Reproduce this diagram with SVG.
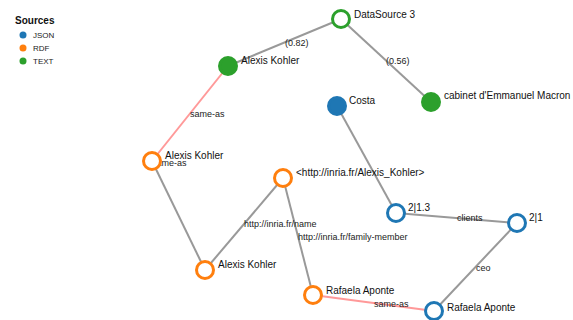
<svg xmlns="http://www.w3.org/2000/svg" width="573" height="320" viewBox="0 0 573 320">
<style>
.link{stroke:#999;stroke-width:2;fill:none}
.same{stroke:#f99;stroke-width:2;fill:none}
.elabel{font-family:"Liberation Sans",Arial,sans-serif;font-size:9px;fill:#222}
.nlabel{font-family:"Liberation Sans",Arial,sans-serif;font-size:10px;fill:#111}
.node{stroke-width:3}
.json{stroke:#1f77b4}
.rdf{stroke:#ff7f0e}
.text{stroke:#2ca02c}
.hollow{fill:#fff}
.json.filled{fill:#1f77b4}
.text.filled{fill:#2ca02c}
.lt{font-family:"Liberation Sans",Arial,sans-serif;font-size:10px;font-weight:bold;fill:#111}
.li{font-family:"Liberation Sans",Arial,sans-serif;font-size:8px;fill:#222}
</style>
<rect width="573" height="320" fill="#fff"/>
<g id="legend">
<text class="lt" x="15" y="24">Sources</text>
<circle cx="23" cy="35" r="3.5" fill="#1f77b4"/><text class="li" x="33" y="38">JSON</text>
<circle cx="23" cy="48" r="3.5" fill="#ff7f0e"/><text class="li" x="33" y="51">RDF</text>
<circle cx="23" cy="61" r="3.5" fill="#2ca02c"/><text class="li" x="33" y="64">TEXT</text>
</g>
<g id="connectors">
<line class="link" x1="341" y1="19" x2="228" y2="66"/>
<line class="link" x1="341" y1="19" x2="431" y2="102"/>
<line class="same" x1="228" y1="66" x2="152" y2="161"/>
<line class="link" x1="152" y1="161" x2="205" y2="270"/>
<line class="link" x1="283" y1="178" x2="205" y2="270"/>
<line class="link" x1="283" y1="178" x2="313" y2="295"/>
<line class="link" x1="337" y1="106" x2="396" y2="213"/>
<line class="link" x1="396" y1="213" x2="517" y2="223"/>
<line class="link" x1="517" y1="223" x2="434" y2="311"/>
<line class="same" x1="313" y1="295" x2="434" y2="311"/>
<text class="elabel" x="285" y="46">(0.82)</text>
<text class="elabel" x="386" y="64">(0.56)</text>
<text class="elabel" x="190" y="117">same-as</text>
<text class="elabel" x="152" y="166">same-as</text>
<text class="elabel" x="244" y="227">http://inria.fr/name</text>
<text class="elabel" x="298" y="240">http://inria.fr/family-member</text>
<text class="elabel" x="457" y="221">clients</text>
<text class="elabel" x="476" y="271">ceo</text>
<text class="elabel" x="374" y="307">same-as</text>
</g>
<g id="n-datasource3"><circle class="node text hollow" cx="341" cy="19" r="8.5"/><text class="nlabel" x="354" y="18">DataSource 3</text></g>
<g id="n-alexis-text"><circle class="node text filled" cx="228" cy="66" r="8.5"/><text class="nlabel" x="241" y="64">Alexis Kohler</text></g>
<g id="n-macron"><circle class="node text filled" cx="431" cy="102" r="8.5"/><text class="nlabel" x="444" y="99">cabinet d'Emmanuel Macron</text></g>
<g id="n-costa"><circle class="node json filled" cx="337" cy="106" r="8.5"/><text class="nlabel" x="349" y="104">Costa</text></g>
<g id="n-alexis-rdf1"><circle class="node rdf hollow" cx="152" cy="161" r="8.5"/><text class="nlabel" x="165" y="159">Alexis Kohler</text></g>
<g id="n-inria-uri"><circle class="node rdf hollow" cx="283" cy="178" r="8.5"/><text class="nlabel" x="296" y="176">&lt;http://inria.fr/Alexis_Kohler&gt;</text></g>
<g id="n-2-1-3"><circle class="node json hollow" cx="396" cy="213" r="8.5"/><text class="nlabel" x="408" y="211">2|1.3</text></g>
<g id="n-2-1"><circle class="node json hollow" cx="517" cy="223" r="8.5"/><text class="nlabel" x="529" y="221">2|1</text></g>
<g id="n-alexis-rdf2"><circle class="node rdf hollow" cx="205" cy="270" r="8.5"/><text class="nlabel" x="218" y="268">Alexis Kohler</text></g>
<g id="n-rafaela-rdf"><circle class="node rdf hollow" cx="313" cy="295" r="8.5"/><text class="nlabel" x="326" y="294">Rafaela Aponte</text></g>
<g id="n-rafaela-json"><circle class="node json hollow" cx="434" cy="311" r="8.5"/><text class="nlabel" x="447" y="311">Rafaela Aponte</text></g>
</svg>
